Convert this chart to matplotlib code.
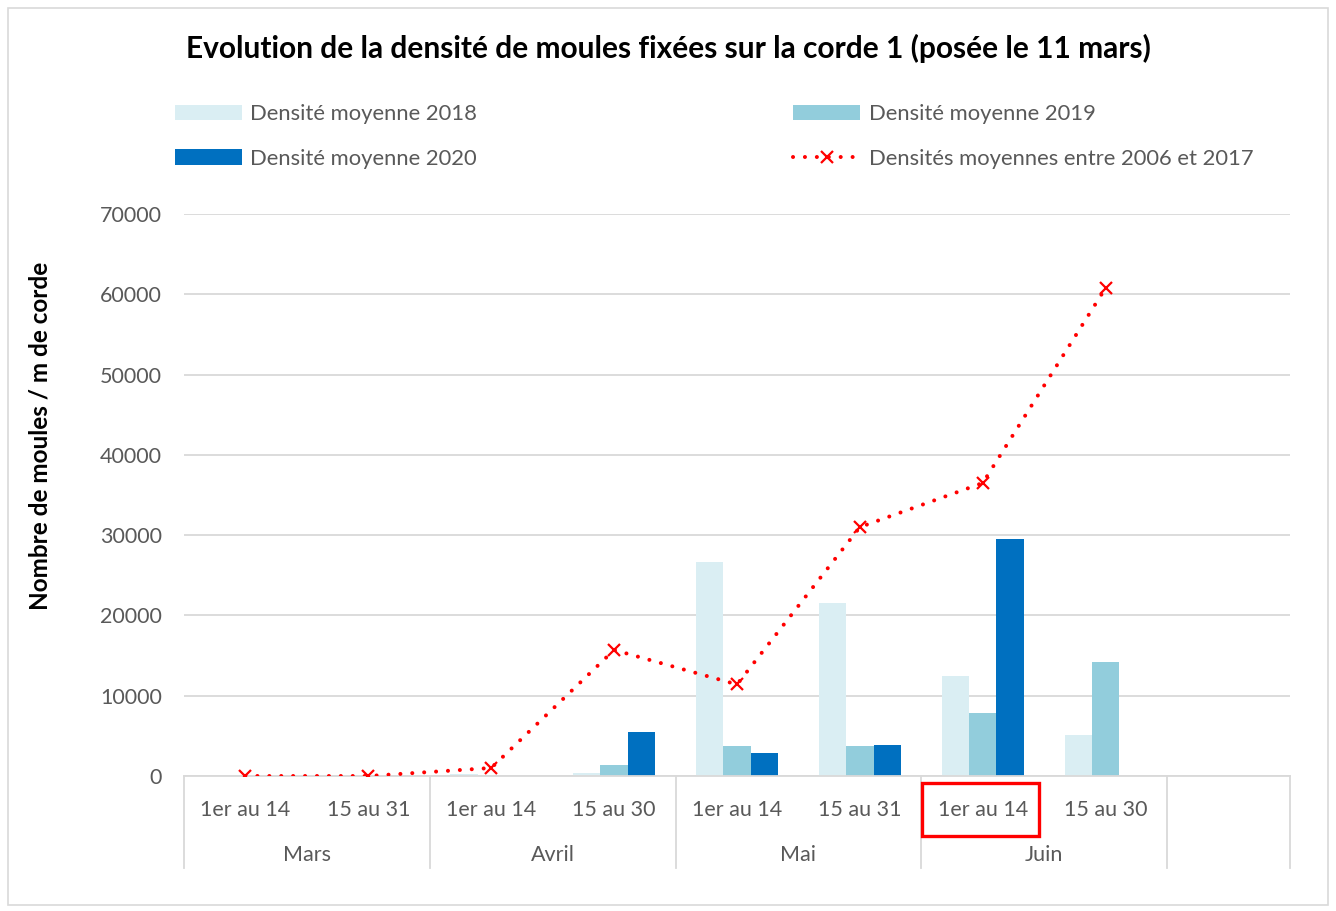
import matplotlib
matplotlib.use("Agg")
import matplotlib.pyplot as plt
from matplotlib.patches import Rectangle
from matplotlib.lines import Line2D
import numpy as np

plt.rcParams["font.family"] = ["Lato", "DejaVu Sans"]

# --- data -----------------------------------------------------------------
periods = ["1er au 14", "15 au 31", "1er au 14", "15 au 30",
           "1er au 14", "15 au 31", "1er au 14", "15 au 30"]
months = ["Mars", "Avril", "Mai", "Juin"]
d2018 = [0, 0, 200, 400, 26600, 21600, 12400, 5150]
d2019 = [0, 0, 0, 1400, 3700, 3700, 7800, 14200]
d2020 = [0, 0, 0, 5500, 2900, 3800, 29500, 0]
moy_2006_2017 = [0, 0, 1000, 15700, 11400, 31000, 36500, 60800]
yticks = [0, 10000, 20000, 30000, 40000, 50000, 60000, 70000]

GREY_TXT = "#595959"
GRID = "#d9d9d9"
C2018, C2019, C2020 = "#daeef3", "#92cddc", "#0070c0"

W, H = 1336, 911
fig = plt.figure(figsize=(W / 100, H / 100), dpi=100)

# outer chart frame
fig.patches.append(Rectangle((8 / W, 1 - 905 / H), 1320 / W, 897 / H,
                             transform=fig.transFigure, fill=False,
                             edgecolor=GRID, linewidth=1.2))

left, right, top, bottom = 184, 1290, 214, 776
ax = fig.add_axes([left / W, 1 - bottom / H, (right - left) / W, (bottom - top) / H])

n_slots = len(periods) + 1  # last slot stays empty
x = np.arange(len(periods))
bw = 0.223
b18 = ax.bar(x - bw, d2018, bw, color=C2018, zorder=2)
b19 = ax.bar(x, d2019, bw, color=C2019, zorder=2)
b20 = ax.bar(x + bw, d2020, bw, color=C2020, zorder=2)
ln, = ax.plot(x, moy_2006_2017, color="#ff0000", linewidth=2.9,
              linestyle=(0, (0.01, 2.95)), dash_capstyle="round",
              marker="x", markersize=9, markeredgewidth=1.6, zorder=3)

ax.set_xlim(-0.5, n_slots - 0.5)
ax.set_ylim(0, 70000)
ax.set_yticks(yticks)
ax.set_yticklabels([str(v) for v in yticks], color=GREY_TXT, fontsize=15.5)
ax.tick_params(axis="y", length=0, pad=16)
ax.set_xticks([])
ax.grid(axis="y", color=GRID, linewidth=1.3, zorder=0)
for s in ["top", "right", "left"]:
    ax.spines[s].set_visible(False)
ax.spines["bottom"].set_color(GRID)
ax.spines["bottom"].set_linewidth(1.3)

# category axis: two levels of labels with group separators
trans = ax.get_xaxis_transform()
for i, p in enumerate(periods):
    ax.text(i, -34 / (bottom - top), p, transform=trans, ha="center", va="center",
            fontsize=15.5, color=GREY_TXT)
for k, m in enumerate(months):
    ax.text(2 * k + 0.5, -79 / (bottom - top), m, transform=trans, ha="center",
            va="center", fontsize=15.5, color=GREY_TXT)
for b in [-0.5, 1.5, 3.5, 5.5, 7.5, 8.5]:
    ax.add_line(Line2D([b, b], [0, -92 / (bottom - top)], transform=trans,
                       color=GRID, linewidth=1.3, clip_on=False))

# red highlight box around "1er au 14" of Juin
fig.patches.append(Rectangle((922 / W, 1 - 836 / H), 117 / W, 53 / H,
                             transform=fig.transFigure, fill=False,
                             edgecolor="#ff0000", linewidth=2.4))

fig.text(40 / W, 1 - 436 / H, "Nombre de moules / m de corde", rotation=90,
         ha="center", va="center", fontsize=17.5, fontweight="bold")
fig.text(668 / W, 1 - 48 / H,
         "Evolution de la densité de moules fixées sur la corde 1 (posée le 11 mars)",
         ha="center", va="center", fontsize=21.5, fontweight="bold")

# legend: column-first fill -> order 2018, 2020 | 2019, line
handles = [b18, b20, b19, ln]
labels = ["Densité moyenne 2018", "Densité moyenne 2020",
          "Densité moyenne 2019", "Densités moyennes entre 2006 et 2017"]
fig.legend(handles, labels, ncol=2, loc="upper left",
           bbox_to_anchor=(175 / W, 1 - 104 / H), borderpad=0, borderaxespad=0,
           frameon=False, fontsize=15.8, handlelength=3.06, handleheight=0.7,
           handletextpad=0.37, columnspacing=14.4, labelspacing=1.12,
           labelcolor=GREY_TXT)

fig.savefig("out.png", dpi=100)
